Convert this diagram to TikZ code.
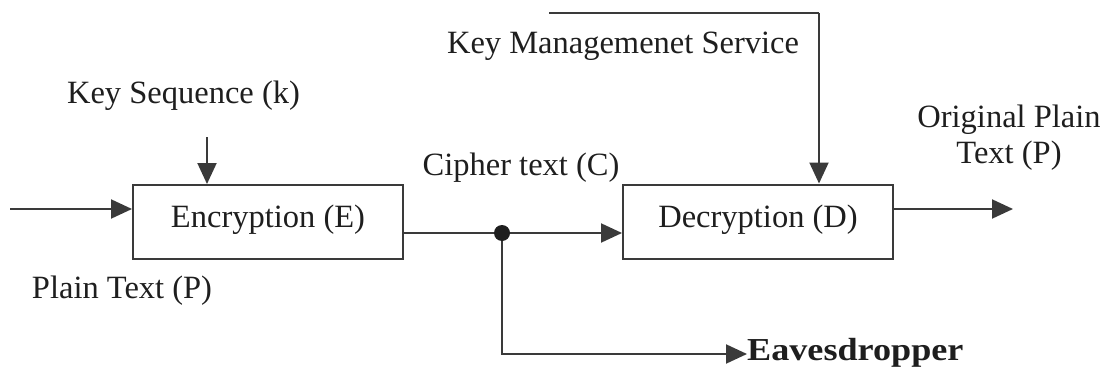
\documentclass[tikz,border=0pt]{standalone}
\usepackage{fontspec}
\usepackage{graphicx}
\setmainfont{Liberation Serif}
\usetikzlibrary{arrows.meta,calc}
\definecolor{ink}{HTML}{1E1E1E}
\definecolor{edge}{HTML}{3A3A3A}
\tikzset{
  blockbox/.style={draw=edge,line width=2pt,minimum width=270pt,minimum height=74pt,inner sep=0pt},
  lbl/.style={text=ink,inner sep=0pt,anchor=base,font=\fontsize{32.5}{36}\selectfont},
  flow/.style={draw=edge,line width=2pt,-{Triangle[length=21pt,width=19pt]}},
  wire/.style={draw=edge,line width=2pt}
}
\begin{document}
\begin{tikzpicture}[x=1pt,y=-1pt]
\useasboundingbox (0,0) rectangle (1105,369);

% processing blocks
\node[blockbox] (enc) at (268,222) {};
\node[blockbox] (dec) at (758,221.5) {};
\node[lbl] (enctxt) at (268,227) {Encryption (E)};
\node[lbl] (dectxt) at (758,227) {Decryption (D)};

% labels
\node[lbl] (keyseq) at (183.5,103) {Key Sequence (k)};
\node[lbl] (kms) at (623,54) {Key Managemenet Service};
\node[lbl] (cipher) at (521,175) {Cipher text (C)};
\node[lbl] (plain) at (122,298) {Plain Text (P)};
\node[lbl] (orig1) at (1009,127) {Original Plain};
\node[lbl] (orig2) at (1009,163) {Text (P)};
\node[lbl,anchor=base west,font=\fontsize{32}{36}\selectfont\bfseries] (eve) at (747,360) {\scalebox{1.13}[1]{Eavesdropper}};

% free ends and bends
\coordinate (src) at (10,209);
\coordinate (ksrc) at (207,137);
\coordinate (ktop) at (549,13);
\coordinate (kbend) at (819,13);
\coordinate (sink) at (1013,209);
\coordinate (tap) at (502,233);
\coordinate (evebend) at (502,354);

% connectors
\draw[flow] (src) -- (enc.west |- src);
\draw[flow] (ksrc) -- (enc.north -| ksrc);
\draw[flow] (enc.east |- tap) -- (dec.west |- tap);
\draw[wire] (ktop) -- (kbend);
\draw[flow] (kbend) -- (dec.north -| kbend);
\draw[flow] (dec.east |- sink) -- (sink);
\draw[flow] (tap) -- (evebend) -- (eve.west |- evebend);
\fill[ink] (tap) circle (8pt);
\end{tikzpicture}
\end{document}
